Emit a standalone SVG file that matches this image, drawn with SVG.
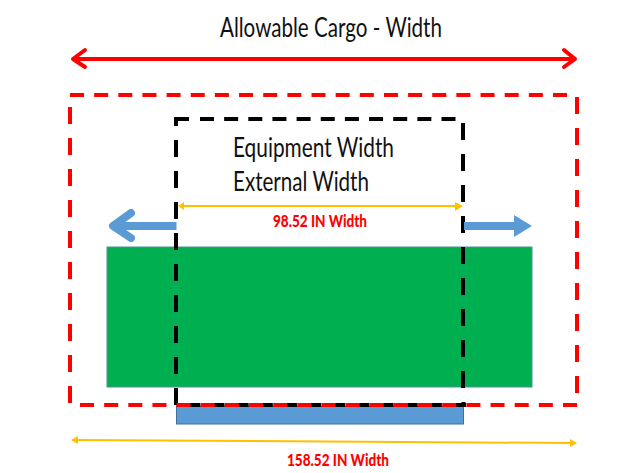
<svg xmlns="http://www.w3.org/2000/svg" width="641" height="473" viewBox="0 0 641 473">
<style>
text{font-family:Lato,"Open Sans","Liberation Sans",sans-serif}
.t{font-size:27px;fill:#111}
.l{font-size:16px;font-weight:900;fill:#f00}
.h{fill:none;stroke-width:4}
.dh{stroke-dasharray:14 10.15}
.dv{stroke-dasharray:17 14}
</style>
<rect width="641" height="473" fill="#fff"/>
<g id="cargo-body"><rect x="107" y="247" width="425" height="140" fill="#00B050" stroke="#4F8F9A" stroke-width="1"/></g>
<g id="deck"><rect x="176.500" y="406" width="287" height="18" fill="#5B9BD5" stroke="#41719C" stroke-width="1"/></g>
<g id="equipment-frame" class="h" stroke="#000">
<path d="M176 126V119H189"/>
<path class="dh" d="M200 119H457"/>
<path class="dv" d="M176 140V405"/>
<path class="dv" d="M463 123V390"/>
<path d="M463.500 402V405"/>
<path class="dh" d="M466 405H176"/>
</g>
<g id="allowable-frame" class="h" stroke="#f00">
<path class="dh" d="M70 95H568"/>
<path class="dv" d="M577 97V395"/>
<path class="dv" d="M70 107V403"/>
<path class="dh" d="M577 405H79"/>
</g>
<g id="connectors">
<g fill="none" stroke="#f00" stroke-width="4" stroke-linecap="round" stroke-linejoin="round">
<path d="M74 59H574"/>
<path d="M85 50L73 59L85 67"/>
<path d="M564 50L575 59L564 67"/>
</g>
<path d="M180 206H458" stroke="#FFC000" stroke-width="2"/>
<path d="M178 206L184 202V210Z" fill="#FFC000"/>
<path d="M463 206L455 202V211Z" fill="#FFC000"/>
<path d="M75 440L572 443" stroke="#FFC000" stroke-width="2"/>
<path d="M71 440L78 436V444Z" fill="#FFC000"/>
<path d="M577 443L570 439V447Z" fill="#FFC000"/>
<g fill="none" stroke="#5B9BD5" stroke-width="8" stroke-linejoin="round">
<path d="M176.500 226H114"/>
<path stroke-linecap="round" d="M131 213L113 226L131 238"/>
<path d="M464 226H516"/>
</g>
<path d="M514 215L532 226L514 237Z" fill="#5B9BD5"/>
</g>
<g id="labels">
<text class="t" x="220" y="37" textLength="222" lengthAdjust="spacingAndGlyphs">Allowable Cargo - Width</text>
<text class="t" x="233" y="157" textLength="161" lengthAdjust="spacingAndGlyphs">Equipment Width</text>
<text class="t" x="233" y="191" textLength="136" lengthAdjust="spacingAndGlyphs">External Width</text>
<text class="l" x="273" y="227" textLength="94" lengthAdjust="spacingAndGlyphs">98.52 IN Width</text>
<text class="l" x="287" y="466" textLength="102" lengthAdjust="spacingAndGlyphs">158.52 IN Width</text>
</g>
</svg>
